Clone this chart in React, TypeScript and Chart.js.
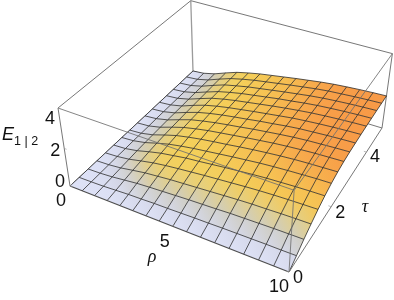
import React, { useEffect, useRef } from "react";
import { Chart, registerables } from "chart.js";

Chart.register(...registerables);

const rhoValues = [0, 0.625, 1.25, 1.875, 2.5, 3.125, 3.75, 4.375, 5, 5.625, 6.25, 6.875, 7.5, 8.125, 8.75, 9.375, 10];
const tauValues = [0, 0.3125, 0.625, 0.9375, 1.25, 1.5625, 1.875, 2.1875, 2.5, 2.8125, 3.125, 3.4375, 3.75, 4.0625, 4.375, 4.6875, 5];

// one row per rho, one entry per tau
const energy = [
  [0, 0, 0, 0, 0, 0, 0, 0, 0, 0, 0, 0, 0, 0, 0, 0, 0],
  [0, 0.01, 0.02, 0.03, 0.04, 0.04, 0.05, 0.05, 0.05, 0.06, 0.06, 0.06, 0.06, 0.06, 0.06, 0.06, 0.06],
  [0, 0.03, 0.07, 0.1, 0.13, 0.16, 0.18, 0.19, 0.2, 0.21, 0.21, 0.21, 0.22, 0.22, 0.22, 0.22, 0.22],
  [0, 0.07, 0.15, 0.22, 0.28, 0.34, 0.38, 0.41, 0.43, 0.44, 0.45, 0.46, 0.46, 0.46, 0.47, 0.47, 0.47],
  [0, 0.11, 0.23, 0.33, 0.42, 0.5, 0.56, 0.61, 0.64, 0.66, 0.67, 0.68, 0.69, 0.69, 0.7, 0.7, 0.7],
  [0, 0.13, 0.28, 0.4, 0.52, 0.61, 0.69, 0.75, 0.79, 0.81, 0.83, 0.84, 0.85, 0.85, 0.85, 0.86, 0.86],
  [0, 0.16, 0.32, 0.47, 0.6, 0.72, 0.8, 0.87, 0.92, 0.94, 0.96, 0.97, 0.98, 0.99, 0.99, 1, 1],
  [0, 0.17, 0.36, 0.52, 0.67, 0.79, 0.89, 0.97, 1.02, 1.05, 1.07, 1.08, 1.09, 1.1, 1.1, 1.11, 1.11],
  [0, 0.19, 0.4, 0.57, 0.74, 0.87, 0.98, 1.06, 1.12, 1.15, 1.17, 1.19, 1.2, 1.21, 1.21, 1.22, 1.22],
  [0, 0.21, 0.43, 0.62, 0.8, 0.95, 1.07, 1.16, 1.22, 1.26, 1.28, 1.29, 1.31, 1.32, 1.32, 1.33, 1.33],
  [0, 0.22, 0.46, 0.67, 0.86, 1.02, 1.15, 1.25, 1.31, 1.35, 1.37, 1.39, 1.41, 1.41, 1.42, 1.43, 1.43],
  [0, 0.24, 0.5, 0.72, 0.92, 1.09, 1.23, 1.33, 1.4, 1.44, 1.47, 1.49, 1.5, 1.51, 1.52, 1.53, 1.53],
  [0, 0.25, 0.52, 0.76, 0.97, 1.15, 1.29, 1.4, 1.47, 1.52, 1.55, 1.56, 1.58, 1.59, 1.6, 1.61, 1.61],
  [0, 0.26, 0.54, 0.78, 1.01, 1.19, 1.34, 1.46, 1.53, 1.58, 1.6, 1.62, 1.64, 1.65, 1.66, 1.66, 1.67],
  [0, 0.27, 0.56, 0.81, 1.04, 1.23, 1.38, 1.5, 1.58, 1.62, 1.65, 1.67, 1.69, 1.7, 1.71, 1.71, 1.72],
  [0, 0.27, 0.57, 0.83, 1.06, 1.26, 1.42, 1.53, 1.61, 1.66, 1.69, 1.71, 1.73, 1.74, 1.75, 1.75, 1.76],
  [0, 0.28, 0.58, 0.84, 1.08, 1.28, 1.44, 1.56, 1.64, 1.69, 1.72, 1.74, 1.76, 1.77, 1.78, 1.78, 1.79],
];

const rhoTicks = [0, 5, 10];
const tauTicks = [0, 2, 4];
const energyTicks = [0, 2, 4];

const RHO_MAX = 10;
const TAU_MAX = 5;
const E_MAX = 4;

const lightStops: [number, number[]][] = [
  [0, [222, 226, 247]],
  [0.25, [218, 222, 243]],
  [0.45, [206, 208, 220]],
  [0.62, [208, 203, 178]],
  [0.8, [232, 208, 122]],
  [1, [244, 208, 90]],
];
const warmStops: [number, number[]][] = [
  [0.85, [244, 208, 90]],
  [1.25, [246, 192, 82]],
  [1.65, [248, 158, 72]],
  [2, [248, 148, 70]],
];

function ramp(stops: [number, number[]][], t: number): number[] {
  if (t <= stops[0][0]) return stops[0][1];
  for (let k = 1; k < stops.length; k++) {
    const [t1, c1] = stops[k];
    const [t0, c0] = stops[k - 1];
    if (t <= t1) {
      const f = (t - t0) / (t1 - t0);
      return c0.map((v, n) => v + (c1[n] - v) * f);
    }
  }
  return stops[stops.length - 1][1];
}

function colorFor(i: number, j: number): string {
  const sr = Math.min(1, rhoValues[i] / 2.9);
  const st = Math.min(1, tauValues[j] / 1.35);
  const a = Math.pow(sr * st, 0.75);
  const base = ramp(lightStops, a);
  const warm = ramp(warmStops, energy[i][j]);
  const mix = energy[i][j] > 0.85 ? a : 0;
  const c = base.map((v, n) => Math.round(v + (warm[n] - v) * mix));
  return `rgb(${c[0]},${c[1]},${c[2]})`;
}

// perspective view of the box
function project(rho: number, tau: number, e: number) {
  const u = rho / RHO_MAX;
  const v = tau / TAU_MAX;
  const w = e / E_MAX;
  const d = 1 - 0.11597 * u + 0.2158 * v - 0.07 * w;
  return {
    x: (70 + 185.49 * u + 164.65 * v - 16.06 * w) / d,
    y: (186 + 54.46 * u - 99.68 * v - 85.56 * w) / d,
  };
}

function lineSet(data: { x: number; y: number }[], color: string, width: number) {
  return {
    data,
    showLine: true,
    fill: false,
    borderColor: color,
    borderWidth: width,
    pointRadius: 0,
    tension: 0,
  };
}

function buildDatasets(ctx: CanvasRenderingContext2D) {
  const drawn: any[] = [];
  const boxColor = "rgba(112,112,112,0.95)";
  const edge = (a: number[], b: number[], color = boxColor, width = 1) =>
    drawn.push(lineSet([project(a[0], a[1], a[2]), project(b[0], b[1], b[2])], color, width));

  // box edges behind the surface
  edge([0, TAU_MAX, 0], [RHO_MAX, TAU_MAX, 0]);
  edge([RHO_MAX, TAU_MAX, 0], [RHO_MAX, TAU_MAX, E_MAX]);
  edge([0, TAU_MAX, 0], [0, TAU_MAX, E_MAX], "rgba(150,150,150,0.95)", 1.3);
  edge([0, TAU_MAX, E_MAX], [RHO_MAX, TAU_MAX, E_MAX]);
  edge([0, 0, E_MAX], [0, TAU_MAX, E_MAX]);
  edge([0, 0, 0], [0, 0, E_MAX]);
  edge([0, 0, 0], [0, TAU_MAX, 0]);
  edge([RHO_MAX, 0, 0], [RHO_MAX, TAU_MAX, 0]);

  // surface cells, back to front
  for (let j = tauValues.length - 2; j >= 0; j--) {
    for (let i = 0; i < rhoValues.length - 1; i++) {
      const a = project(rhoValues[i], tauValues[j], energy[i][j]);
      const b = project(rhoValues[i + 1], tauValues[j], energy[i + 1][j]);
      const c = project(rhoValues[i + 1], tauValues[j + 1], energy[i + 1][j + 1]);
      const d = project(rhoValues[i], tauValues[j + 1], energy[i][j + 1]);
      const g = ctx.createLinearGradient(a.x, a.y, c.x, c.y);
      g.addColorStop(0, colorFor(i, j));
      g.addColorStop(1, colorFor(i + 1, j + 1));
      drawn.push({
        data: [a, b, c, d],
        showLine: true,
        fill: "shape",
        backgroundColor: g,
        borderWidth: 0,
        borderColor: "rgba(0,0,0,0)",
        pointRadius: 0,
        tension: 0,
      });
    }
  }

  // mesh
  const meshColor = "rgba(32,32,32,0.75)";
  for (let i = 0; i < rhoValues.length; i++) {
    const pts = tauValues.map((t, j) => project(rhoValues[i], t, energy[i][j]));
    drawn.push(lineSet(pts, meshColor, 1));
  }
  for (let j = 1; j < tauValues.length; j++) {
    const pts = rhoValues.map((r, i) => project(r, tauValues[j], energy[i][j]));
    drawn.push(lineSet(pts, meshColor, 1));
  }

  // box edges in front of the surface
  const frontColor = "rgba(112,112,112,0.85)";
  edge([0, 0, 0], [RHO_MAX, 0, 0], "rgba(70,70,70,0.95)", 1.3);
  edge([0, 0, E_MAX], [RHO_MAX, 0, E_MAX], frontColor);
  edge([RHO_MAX, 0, 0], [RHO_MAX, 0, E_MAX], frontColor);
  edge([RHO_MAX, 0, E_MAX], [RHO_MAX, TAU_MAX, E_MAX], frontColor);

  // small ticks
  const tickColor = "rgba(150,150,150,0.9)";
  energyTicks.forEach((e) => edge([0, 0, e], [0.12, 0, e], tickColor, 0.7));
  rhoTicks.forEach((r) => edge([r, 0, 0], [r, 0.08, 0], tickColor, 0.7));
  tauTicks.forEach((t) => edge([RHO_MAX, t, 0], [RHO_MAX - 0.12, t, 0], tickColor, 0.7));

  // Chart.js paints the first dataset last
  return drawn.reverse();
}

const rhoLabelOffsets = [[-9, 15.5], [-8, 15.5], [-10, 15]];
const tauLabelOffsets = [[9, 6], [9, 6], [8.5, 5]];
const energyLabelOffsets = [[-10, -4], [-9, 3], [-8, 11]];

const labelsPlugin = {
  id: "labels3d",
  afterDraw(chart: any) {
    const c: CanvasRenderingContext2D = chart.ctx;
    c.save();
    c.fillStyle = "#111";
    c.textAlign = "center";
    c.textBaseline = "middle";
    c.font = 'normal 18px "Liberation Sans"';
    rhoTicks.forEach((r, k) => {
      const p = project(r, 0, 0);
      c.fillText(String(r), p.x + rhoLabelOffsets[k][0], p.y + rhoLabelOffsets[k][1]);
    });
    tauTicks.forEach((t, k) => {
      const p = project(RHO_MAX, t, 0);
      c.fillText(String(t), p.x + tauLabelOffsets[k][0], p.y + tauLabelOffsets[k][1]);
    });
    energyTicks.forEach((e, k) => {
      const p = project(0, 0, e);
      c.fillText(String(e), p.x + energyLabelOffsets[k][0], p.y + energyLabelOffsets[k][1]);
    });
    c.font = 'italic 18px "Liberation Serif"';
    c.fillText("ρ", 152, 257);
    c.fillText("τ", 365, 207);
    c.textAlign = "left";
    c.font = 'italic 18px "Liberation Sans"';
    c.fillText("E", 2, 135);
    c.font = 'normal 12.5px "Liberation Sans"';
    c.fillText("1 | 2", 14, 142);
    c.restore();
  },
};

export default function App() {
  const ref = useRef<HTMLCanvasElement>(null);
  useEffect(() => {
    const canvas = ref.current!;
    const chart = new Chart(canvas, {
      type: "scatter",
      data: { datasets: buildDatasets(canvas.getContext("2d")!) },
      options: {
        animation: false,
        responsive: false,
        layout: { padding: 0 },
        plugins: { legend: { display: false }, tooltip: { enabled: false } },
        scales: {
          x: { type: "linear", min: 0, max: 394, display: false },
          y: { type: "linear", min: 0, max: 300, reverse: true, display: false },
        },
      },
      plugins: [labelsPlugin],
    } as any);
    return () => chart.destroy();
  }, []);
  return (
    <div style={{ position: "absolute", left: 0, top: 0, width: 394, height: 300, background: "#fff" }}>
      <canvas ref={ref} width={394} height={300} style={{ display: "block" }} />
    </div>
  );
}
